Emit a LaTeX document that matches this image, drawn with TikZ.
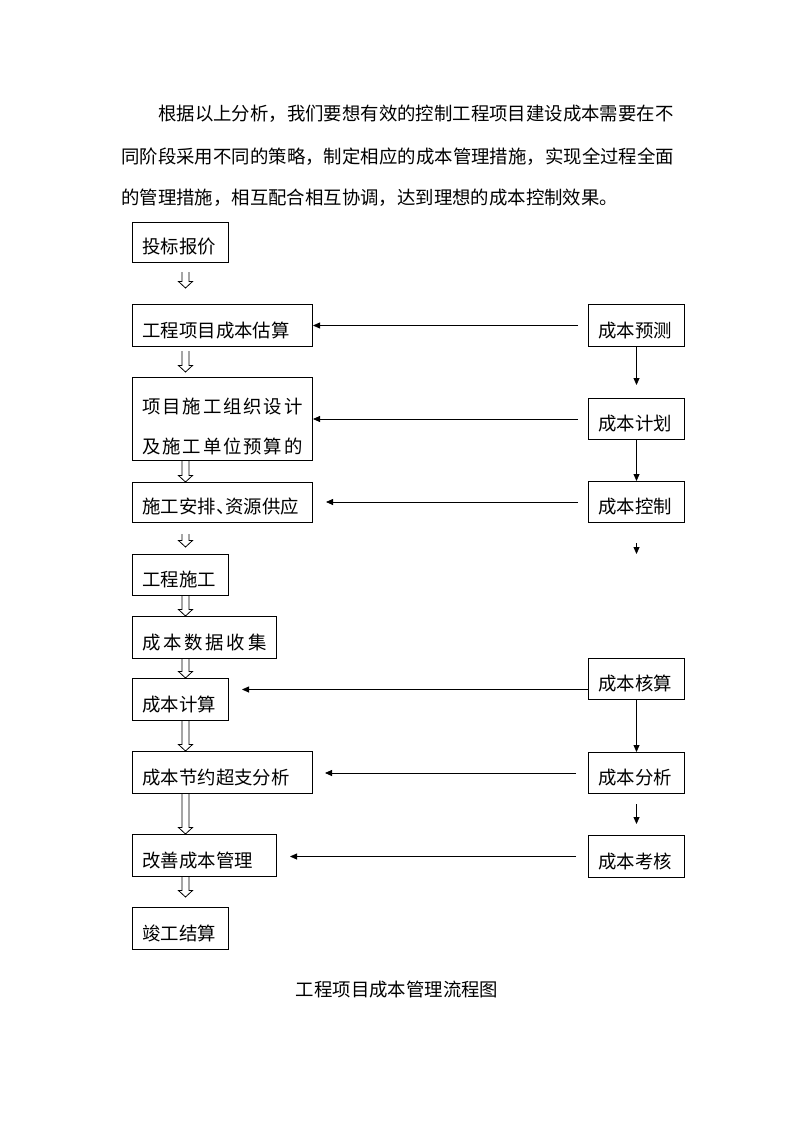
\documentclass[tikz,border=0pt]{standalone}
\usepackage{fontspec}
\setmainfont{Noto Sans CJK SC}
\usetikzlibrary{arrows.meta,calc}

% spread the characters of a line over a given width
\newcommand{\spreadchars}[1]{\spreadloop#1\relax}
\def\spreadloop#1#2{#1\ifx\relax#2\else\hfill\expandafter\spreadloop\expandafter#2\fi}

% hollow down arrow: upper anchor, gap, lower anchor, gap
\newcommand{\hollowdown}[4]{%
  \draw[hollow] let \p1=($(#1 -| lx)+(0,#2)$), \p2=($(#3 -| lx)+(0,-#4)$) in
    (\x1-3.5pt,\y1) -- (\x1-3.5pt,\y2+6.5pt) -- (\x1-7pt,\y2+6.5pt) -- (\x1,\y2)
    -- (\x1+7pt,\y2+6.5pt) -- (\x1+3.5pt,\y2+6.5pt) -- (\x1+3.5pt,\y1);}

\tikzset{
  box/.style={draw, line width=1pt, anchor=north west, inner xsep=10pt, inner ysep=0pt,
    text height=33pt, text depth=9pt, align=left, font=\fontsize{18.4pt}{40pt}\selectfont},
  w4/.style={text width=76pt},
  w6/.style={text width=124pt},
  w8/.style={text width=160pt},
  para/.style={inner sep=0pt, font=\fontsize{18.4pt}{40pt}\selectfont},
  feed/.style={line width=0.8pt, -{Triangle[length=7pt,width=6pt]}},
  hollow/.style={line width=0.8pt}
}

\begin{document}
\begin{tikzpicture}[x=1pt, y=-1pt]
    	\useasboundingbox[fill=white] (0,0) rectangle (794,1123);
    	% Text above and below the chart:
    	\node[para, anchor=base west] (line1) at (158,121) {\makebox[515pt][s]{\spreadchars{根据以上分析，我们要想有效的控制工程项目建设成本需要在不}}};
    	\node[para, anchor=base west] (line2) at (121,164) {\makebox[553pt][s]{\spreadchars{同阶段采用不同的策略，制定相应的成本管理措施，实现全过程全面}}};
    	\node[para, anchor=base west] (line3) at (121,205) {的管理措施，相互配合相互协调，达到理想的成本控制效果。};
    	\node[para, anchor=base] (title) at (397,996.5) {工程项目成本管理流程图};
    	% Left column:
    	\node[box, w4, text height=31pt] (bid) at (132,222) {投标报价};
    	\node[box, w8] (est) at (132,304) {工程项目成本估算};
    	\node[box, w8, text height=36pt, text depth=47pt] (design) at (132,377)
    	   {\makebox[160pt][s]{\spreadchars{项目施工组织设计}}\\\makebox[160pt][s]{\spreadchars{及施工单位预算的}}};
    	\node[box, w8, text height=31pt] (plan) at (132,482) {施工安排\makebox[9.2pt][l]{、}资源供应};
    	\node[box, w4, text height=32pt] (build) at (132,554) {工程施工};
    	\node[box, w6] (collect) at (132,616) {\makebox[124pt][s]{\spreadchars{成本数据收集}}};
    	\node[box, w4] (calc) at (132,678) {成本计算};
    	\node[box, w8] (anal) at (132,751) {成本节约超支分析};
    	\node[box, w6] (improve) at (132,834) {改善成本管理};
    	\node[box, w4] (settle) at (132,907) {竣工结算};
    	% Right column:
    	\node[box, w4] (fore) at (588,304) {成本预测};
    	\node[box, w4, text height=32pt] (budget) at (588,398) {成本计划};
    	\node[box, w4, text height=32pt] (ctrl) at (588,481) {成本控制};
    	\node[box, w4, text height=32pt] (acct) at (588,658) {成本核算};
    	\node[box, w4, text height=32pt] (fenxi) at (588,752) {成本分析};
    	\node[box, w4] (kaohe) at (588,835) {成本考核};
    	% Hollow arrows down the left column:
    	\coordinate (lx) at (185.5,0);
    	\hollowdown{bid.south}{9}{est.north}{16}
    	\hollowdown{est.south}{4}{design.north}{5}
    	\hollowdown{design.south}{0}{plan.north}{0}
    	\hollowdown{plan.south}{11}{build.north}{7}
    	\hollowdown{build.south}{0}{collect.north}{0}
    	\hollowdown{collect.south}{0}{calc.north}{0}
    	\hollowdown{calc.south}{0}{anal.north}{0}
    	\hollowdown{anal.south}{0}{improve.north}{0}
    	\hollowdown{improve.south}{0}{settle.north}{10}
    	% Arrows from the right column:
    	\draw[feed] ($(fore.west)+(-10,0)$) -- (est.east |- fore.west);
    	\draw[feed] ($(budget.west)+(-10,0)$) -- (design.east |- budget.west);
    	\draw[feed, shorten >=13pt] ($(ctrl.west)+(-10,0)$) -- (plan.east |- ctrl.west);
    	\coordinate (acctin) at ($(acct.west)+(0,10.5)$);
    	\draw[feed, shorten >=13pt] (acctin) -- (calc.east |- acctin);
    	\draw[feed, shorten >=12pt] ($(fenxi.west)+(-12,0)$) -- (anal.east |- fenxi.west);
    	\draw[feed, shorten >=13pt] ($(kaohe.west)+(-12,0)$) -- (improve.east |- kaohe.west);
    	\draw[feed, shorten >=13pt] (fore.south) -- (budget.north);
    	\draw[feed] (budget.south) -- (ctrl.north);
    	\coordinate (ctrla) at ($(ctrl.south)+(0,20)$);
    	\coordinate (ctrlb) at ($(ctrl.south)+(0,31)$);
    	\draw[feed] (ctrla) -- (ctrlb);
    	\draw[feed] (acct.south) -- (fenxi.north);
    	\draw[feed, shorten <=10pt, shorten >=11pt] (fenxi.south) -- (kaohe.north);
\end{tikzpicture}
\end{document}
